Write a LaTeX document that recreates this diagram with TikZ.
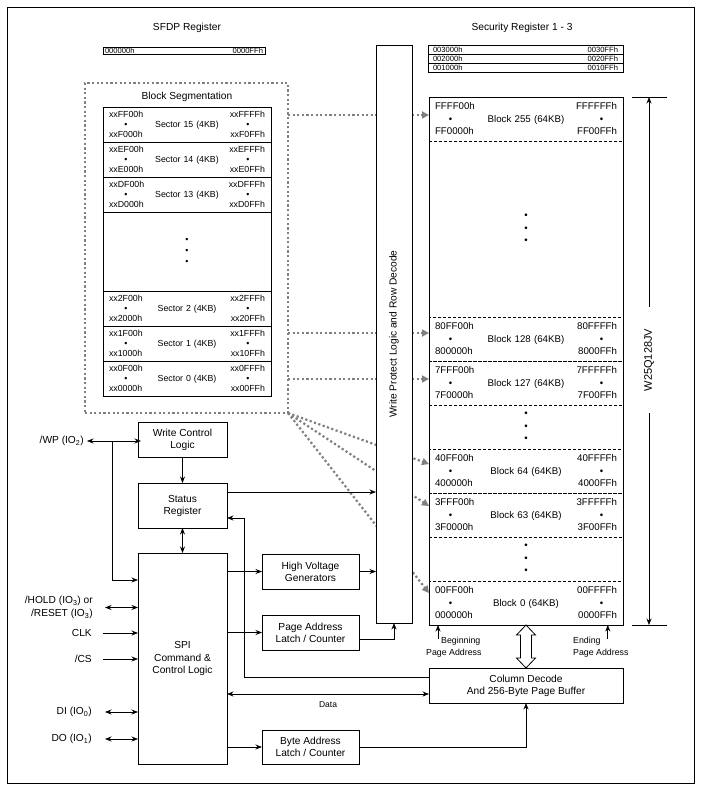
\documentclass[tikz,border=0pt]{standalone}
\usepackage{fontspec}
\setmainfont{Liberation Sans}
\usepackage{tikz}
\usetikzlibrary{positioning}
\usetikzlibrary{arrows.meta}
\tikzstyle{arrow} = [line width=0.7pt,-{Stealth[length=6.5pt,width=5pt]}]
\tikzstyle{darrow} = [line width=0.7pt,{Stealth[length=6.5pt,width=5pt]}-{Stealth[length=6.5pt,width=5pt]}]
\tikzstyle{block} = [draw,line width=0.8pt,align=center,inner sep=0pt,outer sep=0pt,font=\fontsize{10.2}{12}\selectfont]
\tikzstyle{regtitle} = [font=\fontsize{10.2}{12}\selectfont]
\tikzstyle{pinlbl} = [inner sep=0pt,font=\fontsize{10.2}{12}\selectfont]
\tikzstyle{addrlbl} = [inner sep=0pt,font=\fontsize{8.8}{10.5}\selectfont]
\tikzstyle{regrow} = [draw,line width=0.9pt,inner ysep=0pt,outer sep=0pt,align=left,font=\fontsize{7.6}{8}\selectfont]
\tikzstyle{secrow} = [draw,line width=0.8pt,minimum width=168pt,minimum height=35pt,text width=156pt,inner xsep=6pt,inner ysep=0pt,outer sep=0pt,align=left,font=\fontsize{8.8}{10}\selectfont]
\tikzstyle{memrow} = [draw,dash pattern=on 3pt off 2pt,line width=0.7pt,minimum width=194pt,minimum height=44pt,text width=182pt,inner xsep=6pt,inner ysep=0pt,outer sep=0pt,align=left,font=\fontsize{9.7}{12.5}\selectfont]
\tikzstyle{gaprow} = [inner sep=0pt,outer sep=0pt,align=center]
\tikzstyle{dotframe} = [draw=black!50,line width=2.2pt,dash pattern=on 2.2pt off 2.4pt,inner sep=0pt,outer sep=0pt]
\tikzstyle{mapline} = [draw=black!50,line width=2.2pt,dash pattern=on 2.2pt off 2.4pt,-{Triangle[length=7pt,width=7pt]}]

% address row: [dot box] top-left, top-right, name, bottom-left, bottom-right
\newcommand{\rowaddr}[6][31pt]{#2\hfill #3\\\makebox[#1]{\textbullet}\hfill #4\hfill\makebox[#1]{\textbullet}\\#5\hfill #6}

\begin{document}
\begin{tikzpicture}[x=1pt,y=-1pt]
\useasboundingbox (0,0) rectangle (701,790);
\draw[line width=0.6pt] (7,7) rectangle (694,783);

%Registers
\node[regtitle] (sfdptitle) at (187,28) {SFDP Register};
\node[regrow,minimum height=7pt,text width=158pt,inner xsep=2pt] (sfdp) at (184,50.5) {000000h\hfill 0000FFh};
\node[regtitle] (sectitle) at (522,28) {Security Register 1 - 3};
\node[regrow,minimum height=9pt,text width=185pt,inner xsep=5pt] (sr3) at (525.5,50) {003000h\hfill 0030FFh};
\node[regrow,minimum height=9pt,text width=185pt,inner xsep=5pt,below=0pt of sr3] (sr2) {002000h\hfill 0020FFh};
\node[regrow,minimum height=9pt,text width=185pt,inner xsep=5pt,below=0pt of sr2] (sr1) {001000h\hfill 0010FFh};

%Block segmentation
\node[dotframe,minimum width=203pt,minimum height=330pt] (segframe) at (186.5,248) {};
\node[draw,line width=0.8pt,minimum width=168pt,minimum height=289pt,inner sep=0pt,outer sep=0pt] (sectable) at (187,251.5) {};
\node[regtitle,above=2pt of sectable] (segtitle) {Block Segmentation};
\node[secrow,anchor=north] (sec15) at (sectable.north) {\rowaddr[34pt]{xxFF00h}{xxFFFFh}{Sector 15 (4KB)}{xxF000h}{xxF0FFh}};
\node[secrow,below=0pt of sec15] (sec14) {\rowaddr[34pt]{xxEF00h}{xxEFFFh}{Sector 14 (4KB)}{xxE000h}{xxE0FFh}};
\node[secrow,below=0pt of sec14] (sec13) {\rowaddr[34pt]{xxDF00h}{xxDFFFh}{Sector 13 (4KB)}{xxD000h}{xxD0FFh}};
\node[gaprow,minimum height=79pt,font=\fontsize{8.8}{11}\selectfont,below=0pt of sec13] (secdots) {\textbullet\\\textbullet\\\textbullet};
\node[secrow,below=0pt of secdots] (sec2) {\rowaddr[34pt]{xx2F00h}{xx2FFFh}{Sector 2 (4KB)}{xx2000h}{xx20FFh}};
\node[secrow,below=0pt of sec2] (sec1) {\rowaddr[34pt]{xx1F00h}{xx1FFFh}{Sector 1 (4KB)}{xx1000h}{xx10FFh}};
\node[secrow,below=0pt of sec1] (sec0) {\rowaddr[34pt]{xx0F00h}{xx0FFFh}{Sector 0 (4KB)}{xx0000h}{xx00FFh}};

%Memory array
\node[minimum width=194pt,minimum height=528pt,inner sep=0pt,outer sep=0pt] (array) at (526,361) {};
\node[memrow,anchor=north] (blk255) at (array.north) {\rowaddr{FFFF00h}{FFFFFFh}{Block 255 (64KB)}{FF0000h}{FF00FFh}};
\node[gaprow,minimum height=176pt,font=\fontsize{9.7}{12.5}\selectfont,below=0pt of blk255] (blkdotsA) {\textbullet\\\textbullet\\\textbullet};
\node[memrow,below=0pt of blkdotsA] (blk128) {\rowaddr{80FF00h}{80FFFFh}{Block 128 (64KB)}{800000h}{8000FFh}};
\node[memrow,below=0pt of blk128] (blk127) {\rowaddr{7FFF00h}{7FFFFFh}{Block 127 (64KB)}{7F0000h}{7F00FFh}};
\node[gaprow,minimum height=44pt,font=\fontsize{9.7}{12.5}\selectfont,below=0pt of blk127] (blkdotsB) {\textbullet\\\textbullet\\\textbullet};
\node[memrow,below=0pt of blkdotsB] (blk64) {\rowaddr{40FF00h}{40FFFFh}{Block 64 (64KB)}{400000h}{4000FFh}};
\node[memrow,below=0pt of blk64] (blk63) {\rowaddr{3FFF00h}{3FFFFFh}{Block 63 (64KB)}{3F0000h}{3F00FFh}};
\node[gaprow,minimum height=44pt,font=\fontsize{9.7}{12.5}\selectfont,below=0pt of blk63] (blkdotsC) {\textbullet\\\textbullet\\\textbullet};
\node[memrow,below=0pt of blkdotsC] (blk0) {\rowaddr{00FF00h}{00FFFFh}{Block 0 (64KB)}{000000h}{0000FFh}};
\draw[line width=1pt] (array.north west) rectangle (array.south east);

%Mapping lines
\draw[mapline] ([yshift=4pt]blk255.west -| segframe.east) -- ([yshift=4pt]blk255.west);
\draw[mapline] ([yshift=6pt]blk128.west -| segframe.east) -- ([yshift=6pt]blk128.west);
\draw[mapline] ([yshift=4pt]blk127.west -| segframe.east) -- ([yshift=4pt]blk127.west);
\draw[mapline] (segframe.south east) -- ([yshift=7pt]blk64.west);
\draw[mapline] (segframe.south east) -- ([yshift=9pt]blk63.west);
\draw[mapline] (segframe.south east) -- ([yshift=10pt]blk0.west);

%Write protect logic
\node[block,fill=white,minimum width=36pt,minimum height=578pt] (wpl) at (394,334) {};
\node[rotate=90,font=\fontsize{10.2}{12}\selectfont] (wpltext) at (wpl) {Write Protect Logic and Row Decode};

%Density
\node[rotate=90,font=\fontsize{11}{13}\selectfont,inner xsep=22pt] (density) at (649,360) {W25Q128JV};
\coordinate (dtop) at (array.north -| density);
\coordinate (dbot) at (array.south -| density);
\draw[arrow] (density.east) -- (dtop);
\draw[arrow] (density.west) -- (dbot);
\draw[line width=0.7pt] ([xshift=-17pt]dtop) -- ([xshift=18pt]dtop);
\draw[line width=0.7pt] ([xshift=-17pt]dbot) -- ([xshift=18pt]dbot);

%Control blocks
\node[block,minimum width=89pt,minimum height=35pt] (wcl) at (182.5,439.5) {Write Control\\Logic};
\node[block,minimum width=89pt,minimum height=45pt,below=26pt of wcl] (status) {Status\\Register};
\node[block,minimum width=89pt,minimum height=211pt,font=\fontsize{10.2}{12.5}\selectfont,below=25pt of status] (spi) {SPI\\Command \&\\Control Logic};
\node[block,minimum width=97pt,minimum height=35pt] (hvg) at (310.5,571.5) {High Voltage\\Generators};
\node[block,minimum width=97pt,minimum height=35pt,below=26pt of hvg] (pal) {Page Address\\Latch / Counter};
\node[block,minimum width=97pt,minimum height=34pt] (bal) at (310.5,747) {Byte Address\\Latch / Counter};
\node[block,minimum width=194pt,minimum height=35pt] (coldec) at (526,685.5) {Column Decode\\And 256-Byte Page Buffer};
\draw[line width=0.8pt,fill=white] (array.south) -- ++(9.5,10) -- ++(-4,0) -- ++(0,23) -- ++(4,0) -- (coldec.north) -- ++(-9.5,-10) -- ++(4,0) -- ++(0,-23) -- ++(-4,0) -- cycle;

%Pins
\node[pinlbl,anchor=east] (wplbl) at (84,441) {/WP (IO\textsubscript{2})};
\node[pinlbl,anchor=east,align=right,font=\fontsize{10.2}{13}\selectfont] (holdlbl) at (93,607.5) {/HOLD (IO\textsubscript{3}) or\\/RESET (IO\textsubscript{3})};
\node[pinlbl,anchor=east] (clklbl) at (92,633) {CLK};
\node[pinlbl,anchor=east] (cslbl) at (92,659) {/CS};
\node[pinlbl,anchor=east] (dilbl) at (92,712) {DI (IO\textsubscript{0})};
\node[pinlbl,anchor=east] (dolbl) at (92,739) {DO (IO\textsubscript{1})};

%Page address labels
\node[addrlbl,anchor=west] (begin1) at (441,641) {Beginning};
\node[addrlbl,anchor=west] (begin2) at (426,653) {Page Address};
\node[addrlbl,anchor=west] (end1) at (573,641) {Ending};
\node[addrlbl,anchor=west] (end2) at (573,653) {Page Address};
\draw[arrow] ([xshift=-3pt,yshift=-2pt]begin1.north west) -- ([xshift=-3pt]begin1.north west |- array.south);
\draw[arrow] ([xshift=7pt,yshift=-2pt]end1.north east) -- ([xshift=7pt]end1.north east |- array.south);

%Lines
\draw[darrow] ([xshift=3pt]wplbl.east) -- ([xshift=3pt]wplbl.east -| wcl.west);
\coordinate (wpj) at ([xshift=28pt]wplbl.east);
\draw[arrow] (wpj) |- ([yshift=-27pt]spi.north west);
\draw[darrow] ([xshift=12pt]holdlbl.east) -- (holdlbl.east -| spi.west);
\draw[arrow] ([xshift=11pt]clklbl.east) -- (clklbl.east -| spi.west);
\draw[arrow] ([xshift=11pt]cslbl.east) -- (cslbl.east -| spi.west);
\draw[darrow] ([xshift=13pt]dilbl.east) -- (dilbl.east -| spi.west);
\draw[darrow] ([xshift=13pt]dolbl.east) -- (dolbl.east -| spi.west);
\draw[arrow] (wcl) -- (status);
\draw[darrow] (status) -- (spi);
\draw[arrow] ([yshift=13.5pt]status.east) -- ([yshift=13.5pt]status.east -| wpl.west);
\draw[arrow] ([yshift=8.5pt]coldec.west) -| ([xshift=17pt,yshift=-12.5pt]status.east) -- ([yshift=-12.5pt]status.east);
\draw[darrow] ([yshift=-8.5pt]coldec.west) -- ([yshift=-8.5pt]coldec.west -| spi.east) node[midway,below=4pt,font=\fontsize{8.5}{10}\selectfont] (data) {Data};
\draw[arrow] (spi.east |- hvg) -- (hvg);
\draw[arrow] (hvg) -- (hvg -| wpl.west);
\draw[arrow] (spi.east |- pal) -- (pal);
\draw[arrow] ([yshift=-6.5pt]pal.east) -| (wpl.south);
\draw[arrow] (spi.east |- bal) -- (bal);
\draw[arrow] (bal.east) -| (coldec.south);
\end{tikzpicture}
\end{document}
